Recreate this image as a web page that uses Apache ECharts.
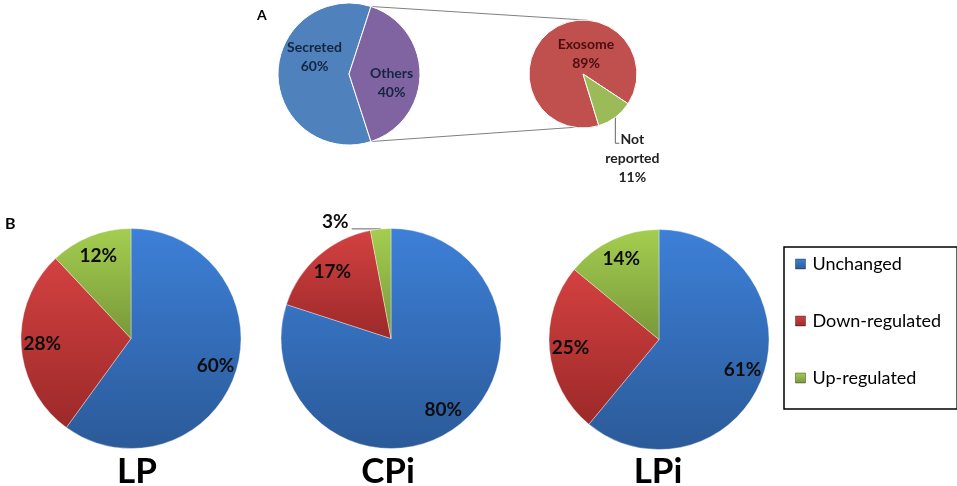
<!DOCTYPE html>
<html>
<head>
<meta charset="utf-8">
<title>Secreted / exosome proteins</title>
<script src="https://cdn.jsdelivr.net/npm/echarts@6/dist/echarts.min.js"></script>
<style>
    html, body {margin: 0; padding: 0; background: #fff;}
    #main {width: 957px; height: 486px;}
</style>
</head>
<body>
<div id="main"></div>
<script>
// panel A
var locNames = ['Secreted', 'Others'];
var locValues = [60, 40];
var exoNames = ['Exosome', 'Not reported'];
var exoValues = [89, 11];

// panel B
var groupNames = ['LP', 'CPi', 'LPi'];
var stateNames = ['Unchanged', 'Down-regulated', 'Up-regulated'];
var lpValues = [60, 28, 12];
var cpiValues = [80, 17, 3];
var lpiValues = [61, 25, 14];

var FONT = 'Lato';

// layout
var locCenter = [349, 74], locR = 71;
var exoCenter = [583, 74], exoR = 54, exoStart = -73;
var bCenters = [[131, 338.5], [391, 338.5], [659, 339.5]], bR = 110;
var bTitleX = [137, 388, 658];

var flatColors = {Secreted: '#4f81bd', Others: '#8064a2', Exosome: '#c0504d', 'Not reported': '#9bbb59'};
var gradColors = [['#3d80d8', '#2b5a98'], ['#d44141', '#9c2929'], ['#a4ce50', '#78983a']];

function grad(pair) {
    return {
        type: 'linear', x: 0, y: 0, x2: 0, y2: 1,
        colorStops: [{offset: 0, color: pair[0]}, {offset: 1, color: pair[1]}]
    };
}

// point on the rim, echarts angle (deg, ccw from 3 o'clock)
function rimPoint(c, r, deg) {
    var a = deg * Math.PI / 180;
    return [c[0] + r * Math.cos(a), c[1] - r * Math.sin(a)];
}

function sum(arr) {
    return arr.reduce(function (a, b) { return a + b; }, 0);
}

(function () {
    var myChart = echarts.init(document.getElementById('main'));

    // Others slice centered on 3 o'clock
    var othersSpan = locValues[1] / sum(locValues) * 360;
    var locStart = -othersSpan / 2;
    var secretedSpan = 360 - othersSpan;

    var series = [];

    // 分泌 vs 其他
    series.push({
        type: 'pie',
        center: locCenter,
        radius: locR,
        startAngle: locStart,
        silent: true,
        itemStyle: {borderColor: '#fff', borderWidth: 1},
        label: {
            position: 'inside',
            formatter: '{b}\n{c}%',
            fontFamily: FONT, fontWeight: 'bold', fontSize: 14, lineHeight: 19,
            color: '#15253f'
        },
        labelLine: {show: false},
        labelLayout: function (p) {
            return p.dataIndex === 0 ? {dx: 4, dy: -17} : {dx: 4, dy: 9};
        },
        data: locNames.map(function (n, i) {
            return {name: n, value: locValues[i], itemStyle: {color: flatColors[n]}};
        })
    });

    // 外泌体
    series.push({
        type: 'pie',
        center: exoCenter,
        radius: exoR,
        startAngle: exoStart,
        silent: true,
        avoidLabelOverlap: false,
        itemStyle: {borderColor: '#fff', borderWidth: 1},
        label: {
            position: 'inside',
            formatter: function (p) { return p.name.replace(' ', '\n') + '\n' + p.value + '%'; },
            fontFamily: FONT, fontWeight: 'bold', fontSize: 14, lineHeight: 19,
            color: '#4a0e0e'
        },
        labelLine: {show: true, length: 20, length2: 4, lineStyle: {color: '#666', width: 1}},
        labelLayout: function (p) {
            if (p.dataIndex === 0) {
                return {dx: 21, dy: 4};
            }
            var e = p.labelLinePoints[0];
            return {
                x: e[0] + 17, y: e[1] + 41, align: 'center', verticalAlign: 'middle',
                labelLinePoints: [e, [e[0], e[1] + 26], [e[0] + 4, e[1] + 26]]
            };
        },
        data: exoNames.map(function (n, i) {
            var item = {name: n, value: exoValues[i], itemStyle: {color: flatColors[n]}};
            if (i === 1) {
                item.label = {position: 'outside', color: '#222'};
            }
            return item;
        })
    });

    var bValues = [lpValues, cpiValues, lpiValues];

    // panel B 饼图
    bValues.forEach(function (vals, k) {
        series.push({
            type: 'pie',
            center: bCenters[k],
            radius: bR,
            startAngle: 90,
            silent: true,
            itemStyle: {borderColor: 'rgba(255,255,255,0.45)', borderWidth: 0.8},
            label: {show: false},
            labelLine: {show: false},
            data: stateNames.map(function (n, i) {
                return {name: n, value: vals[i], itemStyle: {color: grad(gradColors[i])}};
            })
        });
    });

    // 标签 (透明环, 让百分比落在外圈)
    bValues.forEach(function (vals, k) {
        series.push({
            type: 'pie',
            center: bCenters[k],
            radius: [bR * 0.56, bR],
            startAngle: 90,
            silent: true,
            avoidLabelOverlap: false,
            itemStyle: {color: 'rgba(0,0,0,0)'},
            label: {
                position: 'inside',
                formatter: '{c}%',
                fontFamily: FONT, fontWeight: 'bold', fontSize: 19,
                color: '#0d0d0d'
            },
            labelLine: {show: false},
            labelLayout: function (p) {
                if (p.labelLinePoints) {
                    return {dy: -7, labelLinePoints: p.labelLinePoints};
                }
                return {};
            },
            data: stateNames.map(function (n, i) {
                var item = {name: n, value: vals[i]};
                // 太小的扇区放外面
                if (vals[i] < 5) {
                    item.label = {position: 'outside', distanceToLabelLine: 3};
                    item.labelLine = {show: true, length: 0.1, length2: 29, lineStyle: {color: '#666', width: 1}};
                }
                return item;
            })
        });
    });

    // 连线: Others 扇区边缘 -> 外泌体饼
    var pTop = rimPoint(locCenter, locR, locStart - secretedSpan);
    var pBot = rimPoint(locCenter, locR, locStart);
    var qTop = rimPoint(exoCenter, exoR, 85);
    var qBot = rimPoint(exoCenter, exoR, exoStart);

    var graphics = [
        {type: 'line', z: 0, shape: {x1: pTop[0], y1: pTop[1], x2: qTop[0], y2: qTop[1]}, style: {stroke: '#808080', lineWidth: 1}},
        {type: 'line', z: 0, shape: {x1: pBot[0], y1: pBot[1], x2: qBot[0], y2: qBot[1]}, style: {stroke: '#808080', lineWidth: 1}},
        {type: 'text', x: 257, y: 15, style: {text: 'A', font: 'bold 14px ' + FONT, fill: '#000', textVerticalAlign: 'middle'}},
        {type: 'text', x: 5, y: 224, style: {text: 'B', font: 'bold 16px ' + FONT, fill: '#000', textVerticalAlign: 'middle'}}
    ];
    groupNames.forEach(function (g, k) {
        graphics.push({
            type: 'text', x: bTitleX[k], y: 472,
            style: {text: g, font: 'bold 35px ' + FONT, fill: '#000', textAlign: 'center', textVerticalAlign: 'middle'}
        });
    });

    var option = {
        animation: false,
        backgroundColor: '#fff',
        legend: {
            data: stateNames,
            orient: 'vertical',
            left: 784,
            top: 247,
            icon: 'rect',
            itemWidth: 10,
            itemHeight: 10,
            itemGap: 39,
            padding: [8, 16, 22, 11],
            borderColor: '#000',
            borderWidth: 1.5,
            selectedMode: false,
            itemStyle: {borderColor: 'rgba(0,0,0,0.35)', borderWidth: 1},
            textStyle: {fontFamily: FONT, fontSize: 18, lineHeight: 18, color: '#000', padding: [0, 0, 0, 2]}
        },
        graphic: graphics,
        series: series
    };
    myChart.setOption(option);

    window.onresize = function () {
        myChart.resize();
    };
}());
</script>
</body>
</html>
